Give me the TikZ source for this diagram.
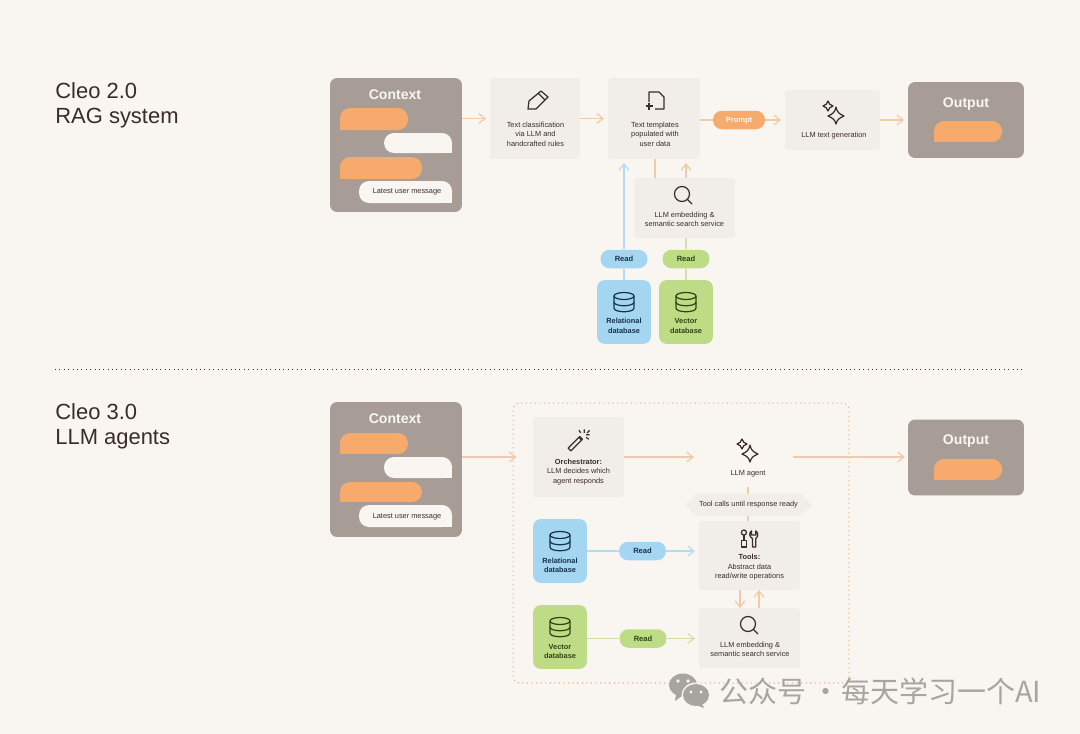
\documentclass[tikz,border=0pt]{standalone}
\usepackage{fontspec}
\setmainfont{Liberation Sans}
\newfontfamily\cjkfont{Noto Sans CJK SC}
\usepackage{xcolor}
\usetikzlibrary{arrows.meta,shapes.misc}

\definecolor{pagebg}{HTML}{F9F6F2}
\definecolor{softgrey}{HTML}{F1EEEA}
\definecolor{taupe}{HTML}{A89C96}
\definecolor{peach}{HTML}{F6AB6C}
\definecolor{skyblue}{HTML}{A5D6F1}
\definecolor{leaf}{HTML}{BEDC85}
\definecolor{inkdark}{HTML}{3A2C28}
\definecolor{inkblue}{HTML}{17324D}
\definecolor{inkgreen}{HTML}{2C4712}
\definecolor{peachline}{HTML}{EFCBA6}
\definecolor{blueline}{HTML}{B5DBEF}
\definecolor{greenline}{HTML}{CFE0A8}
\definecolor{stamp}{HTML}{A8A5A1}

\newcommand{\smalltxt}{\fontsize{4.2}{5.4}\selectfont}
\newcommand{\pilltxt}{\fontsize{4.3}{5.4}\selectfont\bfseries}
\newcommand{\headtxt}{\fontsize{8}{10}\selectfont\bfseries}

% left and right chat bubbles, one square corner each
\newcommand{\bubbleL}[5]{\fill[#5,rounded corners=0.2cm] (#1,#2) rectangle (#3,#4);
    \fill[#5] (#1,#4) rectangle ({#1+10},{#4-10});}
\newcommand{\bubbleR}[5]{\fill[#5,rounded corners=0.2cm] (#1,#2) rectangle (#3,#4);
    \fill[#5] (#3,#4) rectangle ({#3-10},{#4-10});}

\tikzset{
    softbox/.style={fill=softgrey,rounded corners=0.06cm,inner sep=0pt,outer sep=0pt},
    panel/.style={fill=taupe,rounded corners=0.14cm,inner sep=0pt,outer sep=0pt},
    dbblue/.style={fill=skyblue,rounded corners=0.16cm,inner sep=0pt,outer sep=0pt,minimum width=1.08cm,minimum height=1.28cm},
    dbgreen/.style={fill=leaf,rounded corners=0.16cm,inner sep=0pt,outer sep=0pt,minimum width=1.08cm,minimum height=1.28cm},
    pill/.style={rounded corners=0.18cm,inner sep=0pt,minimum width=0.94cm,minimum height=0.37cm,text height=3.1pt,text depth=0pt,font=\pilltxt},
    caption/.style={align=center,text=inkdark,font=\smalltxt,inner sep=0pt},
    heading/.style={text=pagebg,font=\headtxt,inner sep=0pt},
    bigtitle/.style={anchor=west,align=left,text=inkdark,inner sep=0pt,font=\fontsize{12.5}{14.2}\selectfont},
    orangeline/.style={draw=peachline,line width=0.7pt},
    orangearrow/.style={orangeline,-{Straight Barb[length=3.5pt,width=5.5pt]},shorten >=0.08cm},
    bluearrow/.style={draw=blueline,line width=0.7pt,-{Straight Barb[length=3.5pt,width=5.5pt]},shorten >=0.08cm},
    greenarrow/.style={draw=greenline,line width=0.7pt,-{Straight Barb[length=3.5pt,width=5.5pt]},shorten >=0.08cm},
    icon/.style={draw=inkdark,line width=0.7pt,line join=round},
    pics/dbicon/.style={code={
        \draw (0,-6) ellipse [x radius=10,y radius=3.5];
        \draw (-10,-6) -- (-10,6) .. controls (-10,11) and (10,11) .. (10,6) -- (10,-6);
        \draw (-10,0) .. controls (-10,5) and (10,5) .. (10,0);
    }},
    pics/sparkle/.style={code={
        \draw (1,-5) .. controls (2,0) and (4,2) .. (9,4) .. controls (4,6) and (2,8) .. (1,12)
            .. controls (0,8) and (-2,6) .. (-7,4) .. controls (-2,2) and (0,0) .. (1,-5) -- cycle;
        \draw (-7,-11) .. controls (-6,-8) and (-5,-7) .. (-2,-6) .. controls (-5,-5) and (-6,-4) .. (-7,-1)
            .. controls (-8,-4) and (-9,-5) .. (-12,-6) .. controls (-9,-7) and (-8,-8) .. (-7,-11) -- cycle;
    }},
    pics/lens/.style={code={
        \draw (-1,-1) circle (7.5);
        \draw (4.5,4.5) -- (9,9);
    }},
    pics/pencil/.style={code={
        \draw (-10,9) -- (-9,1) -- (3,-9) -- (10,-3) -- (-2,9) -- cycle;
        \draw (0,-7) -- (7,0);
    }},
    pics/docplus/.style={code={
        \draw (-7,2) -- (-7,-8) -- (3,-8) -- (8,-3) -- (8,9) -- (-1,9);
        \draw (-10.5,6) -- (-3.5,6) (-7,2.5) -- (-7,9.5);
    }},
    pics/wand/.style={code={
        \draw (-11,8) -- (-8,11) -- (5,-2) -- (2,-5) -- cycle;
        \draw (1,-4) -- (4,-1);
        \draw (7,-13) -- (7,-9) (13,-7) -- (9,-7) (1,-12) -- (3,-9) (13,-12) -- (10,-9) (12,-2) -- (9,-4);
    }},
    pics/toolset/.style={code={
        \draw (-6,-7) circle (3);
        \draw (-6,-4) -- (-6,2);
        \draw (-9,2) rectangle (-3,10);
        \draw (4,10) -- (4,0) .. controls (0,-2) and (0,-7) .. (3,-9) -- (3,-4) -- (8,-4) -- (8,-9)
            .. controls (11,-7) and (11,-2) .. (8,0) -- (8,10) -- cycle;
    }},
}

\begin{document}
\begin{tikzpicture}[x=0.02cm,y=-0.02cm]
    \useasboundingbox (0,0) rectangle (1080,734);
    \fill[pagebg] (0,0) rectangle (1080,734);

    % titles
    \node[bigtitle] (titleA) at (55,105) {Cleo 2.0\\RAG system};
    \node[bigtitle] (titleB) at (55,426.5) {Cleo 3.0\\LLM agents};
    \coordinate (ruleL) at (55,369);
    \coordinate (ruleR) at (1024,369);
    \draw[inkdark,line width=0.5pt,dotted] (ruleL) -- (ruleR);

    % RAG system, boxes
    \node[panel,minimum width=2.64cm,minimum height=2.68cm] (contextA) at (396,145) {};
    \node[heading] (contextAhead) at (395,95) {Context};
    \bubbleL{340}{108}{408}{130}{peach}
    \bubbleR{384}{133}{452}{153}{pagebg}
    \bubbleL{340}{157}{422}{179}{peach}
    \bubbleR{359}{181}{452}{203}{pagebg}
    \node[caption] (latestA) at (407,192) {Latest user message};

    \node[softbox,minimum width=1.8cm,minimum height=1.62cm] (classify) at (535,118.5) {};
    \pic[icon] at (538,100) {pencil};
    \node[caption] (classifytxt) at (535.5,134) {Text classification\\via LLM and\\handcrafted rules};

    \node[softbox,minimum width=1.84cm,minimum height=1.62cm] (templates) at (654,118.5) {};
    \pic[icon] at (656,100) {docplus};
    \node[caption] (templatestxt) at (655,134) {Text templates\\populated with\\user data};

    \node[softbox,minimum width=1.9cm,minimum height=1.2cm] (generate) at (832.5,120) {};
    \pic[icon] at (835,112) {sparkle};
    \node[caption] (generatetxt) at (834,136) {LLM text generation};

    \node[panel,minimum width=2.32cm,minimum height=1.52cm] (outputA) at (966,120) {};
    \node[heading] (outputAhead) at (966,104) {Output};
    \bubbleL{934}{121}{1002}{142}{peach}

    \node[softbox,minimum width=2.02cm,minimum height=1.2cm] (searchA) at (684.5,208) {};
    \pic[icon] at (683,195) {lens};
    \node[caption] (searchAtxt) at (684.5,219.5) {LLM embedding \&\\semantic search service};

    \node[dbblue] (relA) at (624,312) {};
    \pic[icon,draw=inkblue] at (624,302) {dbicon};
    \node[caption,text=inkblue,font=\smalltxt\bfseries] (relAtxt) at (624,326) {Relational\\database};
    \node[dbgreen] (vecA) at (686,312) {};
    \pic[icon,draw=inkgreen] at (686,302) {dbicon};
    \node[caption,text=inkgreen,font=\smalltxt\bfseries] (vecAtxt) at (686,326) {Vector\\database};

    \node[pill,fill=skyblue,text=inkblue] (readblueA) at (624,259) {Read};
    \node[pill,fill=leaf,text=inkgreen] (readgreenA) at (686,259) {Read};
    \node[pill,fill=peach,text=pagebg,minimum width=1.04cm] (prompt) at (739,120) {Prompt};

    % RAG system, connectors
    \draw[orangearrow] (contextA.east |- classify) -- (classify);
    \draw[orangearrow] (classify) -- (templates);
    \draw[orangeline] (templates.east |- prompt) -- (prompt);
    \draw[orangearrow] (prompt) -- (generate);
    \draw[orangearrow] (generate) -- (outputA);
    \draw[orangeline] (655,159) -- (655,178);
    \draw[orangearrow] (searchA.north -| vecA) -- (vecA |- templates.south);
    \draw[draw=blueline,line width=0.7pt] (relA.north) -- (readblueA.south);
    \draw[bluearrow] (readblueA.north) -- (readblueA |- templates.south);
    \draw[draw=greenline,line width=0.7pt] (vecA.north) -- (readgreenA.south);
    \draw[draw=greenline,line width=0.7pt] (readgreenA.north) -- (readgreenA |- searchA.south);

    % LLM agents, boxes
    \node[panel,minimum width=2.64cm,minimum height=2.7cm] (contextB) at (396,469.5) {};
    \node[heading] (contextBhead) at (395,419) {Context};
    \bubbleL{340}{433}{408}{454}{peach}
    \bubbleR{384}{457}{452}{478}{pagebg}
    \bubbleL{340}{482}{422}{502}{peach}
    \bubbleR{359}{505}{452}{527}{pagebg}
    \node[caption] (latestB) at (407,516.5) {Latest user message};

    \node[draw=peach,dotted,line width=0.6pt,rounded corners=0.14cm,minimum width=6.72cm,minimum height=5.6cm,inner sep=0pt] (agentframe) at (681,543) {};

    \node[softbox,minimum width=1.82cm,minimum height=1.6cm] (orchestrator) at (578.5,457) {};
    \pic[icon,scale=0.9] at (578,441) {wand};
    \node[caption] (orchestratortxt) at (578.5,472) {\textbf{Orchestrator:}\\LLM decides which\\agent responds};

    \coordinate (agentL) at (698,457);
    \coordinate (agentR) at (793,457);
    \pic[icon] at (749,450) {sparkle};
    \node[caption] (agenttxt) at (748,474) {LLM agent};

    \node[panel,minimum width=2.32cm,minimum height=1.52cm] (outputB) at (966,457.5) {};
    \node[heading] (outputBhead) at (966,441) {Output};
    \bubbleL{934}{459}{1002}{480}{peach}

    \node[softbox,minimum width=2.02cm,minimum height=1.38cm] (tools) at (749.5,555.5) {};
    \pic[icon,scale=0.85] at (749,538.5) {toolset};
    \node[caption] (toolstxt) at (749.5,567.5) {\textbf{Tools:}\\Abstract data\\read/write operations};

    \node[softbox,minimum width=2.02cm,minimum height=1.2cm] (searchB) at (749.5,638) {};
    \pic[icon] at (749,625) {lens};
    \node[caption] (searchBtxt) at (750,649.5) {LLM embedding \&\\semantic search service};

    \node[dbblue] (relB) at (560,551) {};
    \pic[icon,draw=inkblue] at (560,541) {dbicon};
    \node[caption,text=inkblue,font=\smalltxt\bfseries] (relBtxt) at (560,565.5) {Relational\\database};
    \node[dbgreen] (vecB) at (560,637) {};
    \pic[icon,draw=inkgreen] at (560,627) {dbicon};
    \node[caption,text=inkgreen,font=\smalltxt\bfseries] (vecBtxt) at (560,651.5) {Vector\\database};

    \node[pill,fill=skyblue,text=inkblue] (readblueB) at (642.5,551) {Read};
    \node[pill,fill=leaf,text=inkgreen] (readgreenB) at (643,638.5) {Read};

    % LLM agents, connectors
    \draw[orangeline] (748,487) -- (748,521);
    \node[chamfered rectangle,chamfered rectangle xsep=0.16cm,chamfered rectangle ysep=0.16cm,fill=softgrey,inner sep=0pt,minimum width=2.54cm,minimum height=0.16cm,font=\smalltxt,text=inkdark] (toolcalls) at (748.5,505) {Tool calls until response ready};
    \draw[orangearrow] (contextB.east |- orchestrator) -- ([xshift=0.16cm]agentframe.west |- orchestrator);
    \draw[orangearrow] (orchestrator) -- (agentL);
    \draw[orangearrow,shorten >=0.06cm] (agentR) -- (outputB.west |- agentR);
    \draw[draw=blueline,line width=0.7pt] (relB.east |- readblueB) -- (readblueB);
    \draw[bluearrow] (readblueB) -- (tools.west |- readblueB);
    \draw[draw=greenline,line width=0.7pt] (vecB.east |- readgreenB) -- (readgreenB);
    \draw[greenarrow] (readgreenB) -- (searchB.west |- readgreenB);
    \draw[orangearrow,shorten >=0pt] (740,590) -- (740,608);
    \draw[orangearrow,shorten >=0pt] (759,608) -- (759,590);

    % watermark
    \fill[stamp] (683,685) ellipse [x radius=14,y radius=11.5];
    \fill[stamp] (676,694) -- (675,701) -- (683,695) -- cycle;
    \fill[pagebg] (696,695) ellipse [x radius=14.5,y radius=12.5];
    \fill[stamp] (696,695) ellipse [x radius=13,y radius=11];
    \fill[stamp] (702,704) -- (704,708) -- (696,705) -- cycle;
    \fill[pagebg] (678,681) circle (1.8) (688,681) circle (1.8) (691,692) circle (1.6) (701,692) circle (1.6);
    \node[anchor=west,text=stamp,inner sep=0pt,font=\cjkfont\fontsize{16.5}{18}\selectfont] (stampfont) at (719,691) {公众号\hspace{-1pt} · \hspace{-3pt}每天学习一个AI};
\end{tikzpicture}
\end{document}
